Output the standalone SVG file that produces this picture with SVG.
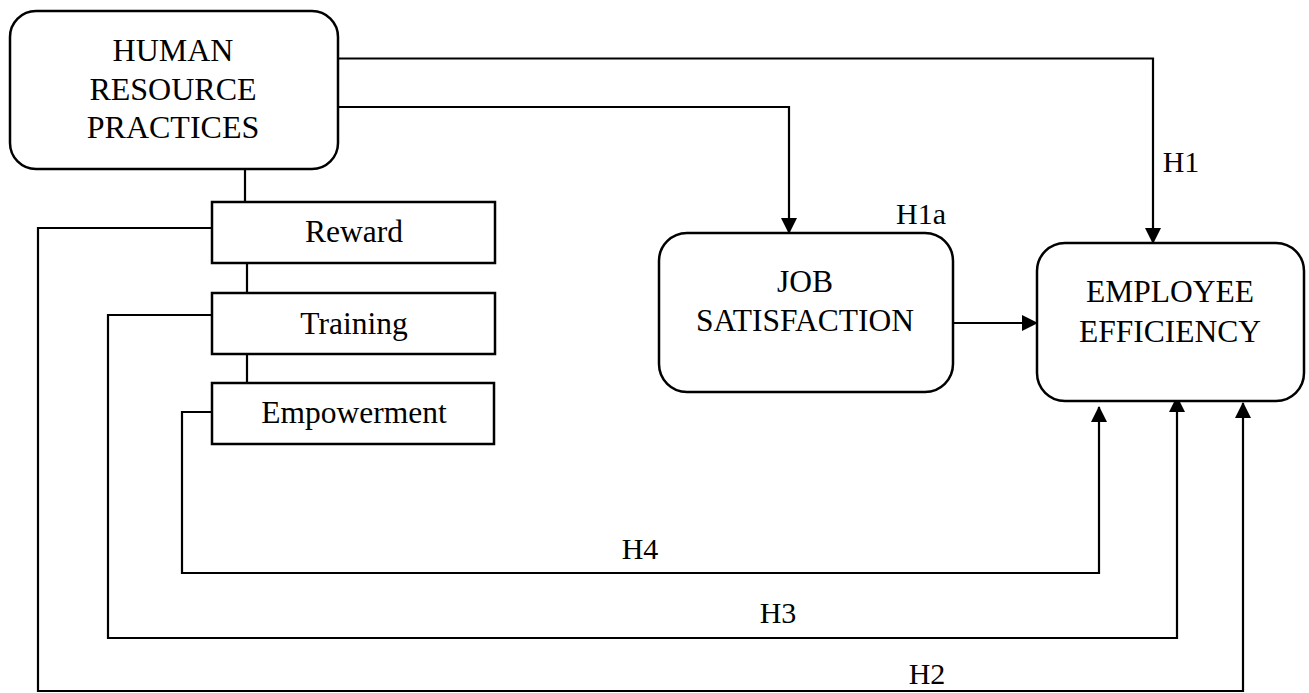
<svg xmlns="http://www.w3.org/2000/svg" width="1309" height="693" viewBox="0 0 1309 693">
<style>
.box{fill:#fff;stroke:#000;stroke-width:2.5}
.ln{fill:none;stroke:#000;stroke-width:2.2}
.t{font-family:"Liberation Serif","Times New Roman",serif;fill:#000;text-anchor:middle}
.big{font-size:31.5px}
.lab{font-size:30px}
</style>
<defs>
<marker id="ah" markerUnits="userSpaceOnUse" markerWidth="16" markerHeight="16" viewBox="0 0 16 16" refX="15" refY="8" orient="auto">
<path d="M0,0 L16,8 L0,16 Z" fill="#000"/>
</marker>
</defs>
<rect width="1309" height="693" fill="#fff"/>
<g id="connectors">
<polyline class="ln" points="334,58.5 1153,58.5 1153,243" marker-end="url(#ah)"/>
<polyline class="ln" points="338,107 789,107 789,233" marker-end="url(#ah)"/>
<line class="ln" x1="953" y1="323" x2="1037" y2="323" marker-end="url(#ah)"/>
<line class="ln" x1="245" y1="169" x2="245" y2="202"/>
<line class="ln" x1="247" y1="263" x2="247" y2="293"/>
<line class="ln" x1="247" y1="354" x2="247" y2="383"/>
<polyline class="ln" points="215,228 38,228 38,691 1243,691 1243,403" marker-end="url(#ah)"/>
<polyline class="ln" points="212,315 108,315 108,638 1177,638 1177,397" marker-end="url(#ah)"/>
<polyline class="ln" points="214,412 182,412 182,573 1099,573 1099,407" marker-end="url(#ah)"/>
</g>
<g id="hrp">
<rect class="box" x="10" y="11" width="328" height="158" rx="26"/>
<text class="t" x="173" y="61" style="font-size:32px">HUMAN</text>
<text class="t" x="173" y="100" style="font-size:32px">RESOURCE</text>
<text class="t" x="173" y="138" style="font-size:32px">PRACTICES</text>
</g>
<g id="reward">
<rect class="box" x="212" y="202" width="283" height="61"/>
<text class="t big" x="354" y="242">Reward</text>
</g>
<g id="training">
<rect class="box" x="212" y="293" width="283" height="61"/>
<text class="t big" x="354" y="334">Training</text>
</g>
<g id="empowerment">
<rect class="box" x="212" y="383" width="282" height="61"/>
<text class="t big" x="354" y="423">Empowerment</text>
</g>
<g id="job-satisfaction">
<rect class="box" x="659" y="233" width="294" height="159" rx="28"/>
<text class="t big" x="805" y="292">JOB</text>
<text class="t big" x="805" y="331">SATISFACTION</text>
</g>
<g id="employee-efficiency">
<rect class="box" x="1037" y="243" width="267" height="158" rx="28"/>
<text class="t big" x="1170" y="302">EMPLOYEE</text>
<text class="t big" x="1170" y="342">EFFICIENCY</text>
</g>
<g id="labels">
<text class="t lab" x="1181" y="172">H1</text>
<text class="t lab" x="921" y="224">H1a</text>
<text class="t lab" x="640" y="559">H4</text>
<text class="t lab" x="778" y="623">H3</text>
<text class="t lab" x="927" y="684">H2</text>
</g>
</svg>
